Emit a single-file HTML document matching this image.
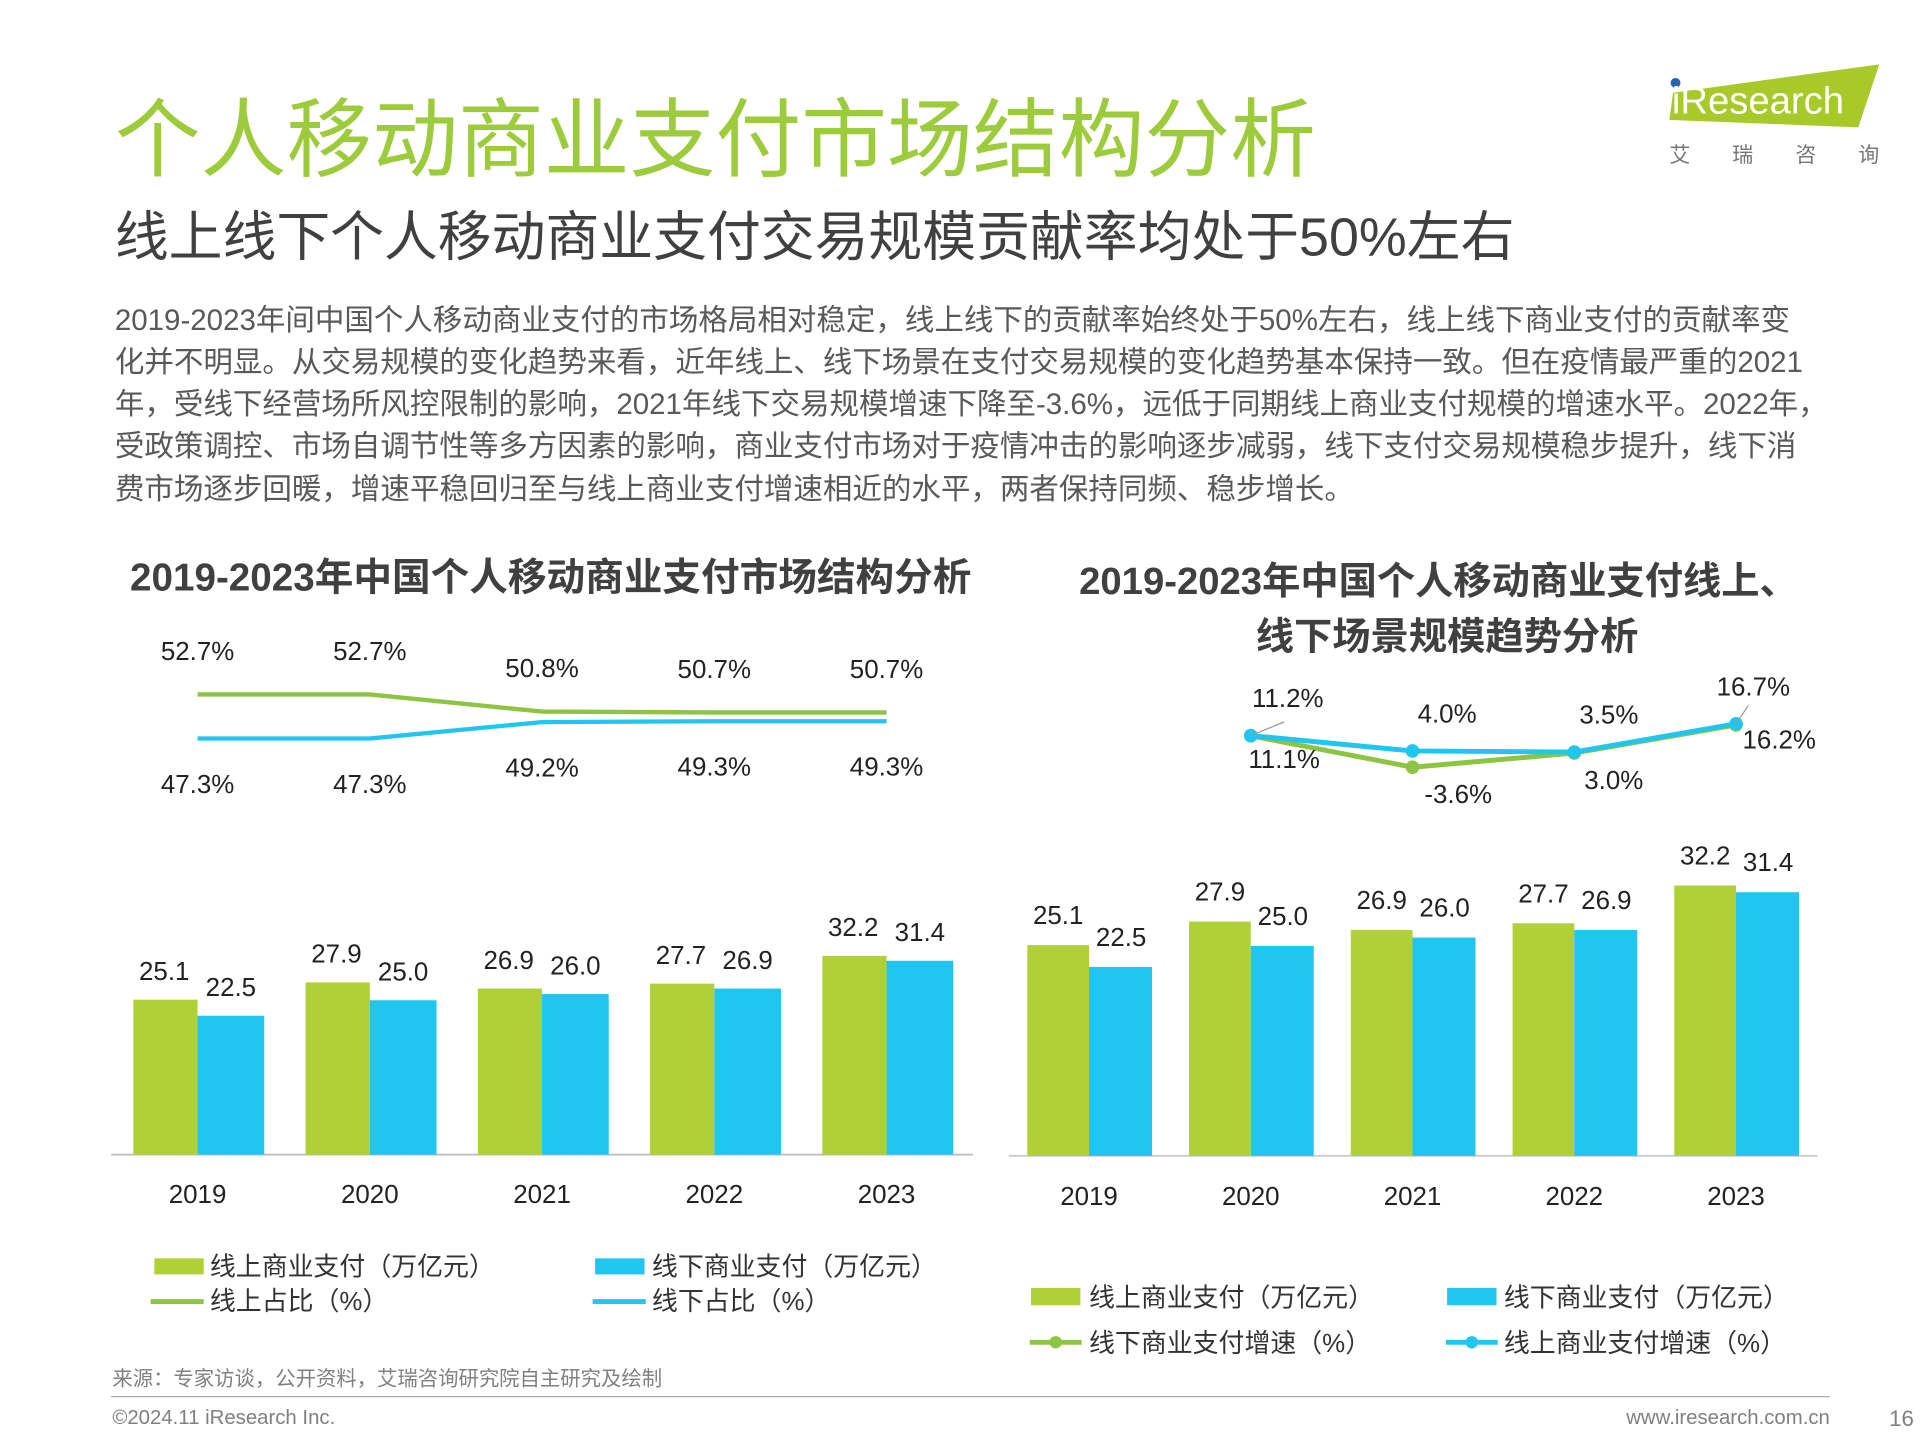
<!DOCTYPE html>
<html><head><meta charset="utf-8"><style>
html,body{margin:0;padding:0;background:#fff;}
svg{display:block;font-family:"Liberation Sans","Noto Sans CJK SC",sans-serif;}
</style></head><body>
<svg id="page" width="1920" height="1440" viewBox="0 0 1555 1166">
<text x="93" y="137" font-size="69.5" fill="#9ccb3b">个人移动商业支付市场结构分析</text>
<g>
<polygon points="1355,75 1522,52 1505,103 1352,97" fill="#a8c92a"/>
<circle cx="1357" cy="67" r="4" fill="#2a63b0"/>
<text x="1354" y="92" font-size="31" fill="#fff">iResearch</text>
<text x="1352" y="131" font-size="17" fill="#777" letter-spacing="34">艾瑞咨询</text>
</g>
<text x="93" y="207" font-size="43.6" fill="#404040">线上线下个人移动商业支付交易规模贡献率均处于50%左右</text>
<g font-size="23.9" fill="#595959">
<text x="93" y="267">2019-2023年间中国个人移动商业支付的市场格局相对稳定，线上线下的贡献率始终处于50%左右，线上线下商业支付的贡献率变</text>
<text x="93" y="301">化并不明显。从交易规模的变化趋势来看，近年线上、线下场景在支付交易规模的变化趋势基本保持一致。但在疫情最严重的2021</text>
<text x="93" y="335">年，受线下经营场所风控限制的影响，2021年线下交易规模增速下降至-3.6%，远低于同期线上商业支付规模的增速水平。2022年，</text>
<text x="93" y="369">受政策调控、市场自调节性等多方因素的影响，商业支付市场对于疫情冲击的影响逐步减弱，线下支付交易规模稳步提升，线下消</text>
<text x="93" y="404">费市场逐步回暖，增速平稳回归至与线上商业支付增速相近的水平，两者保持同频、稳步增长。</text>
</g>
<text x="446" y="478" font-size="31.3" font-weight="bold" fill="#404040" text-anchor="middle">2019-2023年中国个人移动商业支付市场结构分析</text>
<text x="1165" y="481" font-size="31" font-weight="bold" fill="#404040" text-anchor="middle">2019-2023年中国个人移动商业支付线上、</text>
<text x="1172" y="526" font-size="31" font-weight="bold" fill="#404040" text-anchor="middle">线下场景规模趋势分析</text>
<g id="left"></g>
<g id="right"></g>
<g font-size="21" fill="#333">
<rect x="125" y="1019" width="40" height="13" fill="#b0d136"/><text x="170" y="1033">线上商业支付（万亿元）</text>
<rect x="482" y="1019" width="40" height="13" fill="#20c5f0"/><text x="528" y="1033">线下商业支付（万亿元）</text>
<line x1="122" y1="1054" x2="165" y2="1054" stroke="#8dc441" stroke-width="4"/><text x="170" y="1061">线上占比（%）</text>
<line x1="480" y1="1054" x2="523" y2="1054" stroke="#20c5f0" stroke-width="4"/><text x="528" y="1061">线下占比（%）</text>
</g>
<g font-size="21" fill="#333">
<rect x="835" y="1043" width="40" height="14" fill="#b0d136"/><text x="882" y="1058">线上商业支付（万亿元）</text>
<rect x="1172" y="1043" width="40" height="14" fill="#20c5f0"/><text x="1218" y="1058">线下商业支付（万亿元）</text>
<line x1="834" y1="1087" x2="876" y2="1087" stroke="#8dc441" stroke-width="4"/><circle cx="855" cy="1087" r="5" fill="#8dc441"/><text x="882" y="1095">线下商业支付增速（%）</text>
<line x1="1171" y1="1087" x2="1213" y2="1087" stroke="#20c5f0" stroke-width="4"/><circle cx="1192" cy="1087" r="5" fill="#20c5f0"/><text x="1218" y="1095">线上商业支付增速（%）</text>
</g>
<text x="91" y="1122" font-size="16.5" fill="#808080">来源：专家访谈，公开资料，艾瑞咨询研究院自主研究及绘制</text>
<line x1="90" y1="1131" x2="1482" y2="1131" stroke="#aaa" stroke-width="1"/>
<text x="91" y="1153" font-size="16.5" fill="#808080">©2024.11 iResearch Inc.</text>
<text x="1482" y="1153" font-size="16.5" fill="#808080" text-anchor="end">www.iresearch.com.cn</text>
<text x="1530" y="1155" font-size="18" fill="#808080">16</text>
</svg>
<script>
const years = ["2019","2020","2021","2022","2023"];
const onlineVol = [25.1,27.9,26.9,27.7,32.2];
const offlineVol = [22.5,25.0,26.0,26.9,31.4];
const onlineShare = [52.7,52.7,50.8,50.7,50.7];
const offlineShare = [47.3,47.3,49.2,49.3,49.3];
const growthYears = ["2020","2021","2022","2023"];
const onlineGrowth = [11.2,4.0,3.5,16.7];
const offlineGrowth = [11.1,-3.6,3.0,16.2];

const NS="http://www.w3.org/2000/svg";
function mk(parent,tag,attrs,txt){const e=document.createElementNS(NS,tag);for(const k in attrs)e.setAttribute(k,attrs[k]);if(txt!==undefined)e.textContent=txt;parent.appendChild(e);return e;}
const GREEN="#b0d136",BLUE="#20c5f0",LGREEN="#8dc441";

// Left chart
const L=document.getElementById('left');
const lx=i=>160+i*139.5;
const ly=v=>935-v*5;
const lsy=v=>582-(v-50)*7.3;
const lby=v=>598-(v-47.3)*7;
mk(L,'line',{x1:90,y1:935,x2:788,y2:935,stroke:'#bbb','stroke-width':1.5});
years.forEach((y,i)=>{
  let r=mk(L,'rect',{x:lx(i)-52,y:ly(onlineVol[i]),width:52,height:935-ly(onlineVol[i]),fill:GREEN});
  
  r=mk(L,'rect',{x:lx(i),y:ly(offlineVol[i]),width:54,height:935-ly(offlineVol[i]),fill:BLUE});
  
  mk(L,'text',{x:lx(i)-27,y:ly(onlineVol[i])-16,'font-size':21,'text-anchor':'middle',fill:'#222'},onlineVol[i].toFixed(1));
  mk(L,'text',{x:lx(i)+27,y:ly(offlineVol[i])-16,'font-size':21,'text-anchor':'middle',fill:'#222'},offlineVol[i].toFixed(1));
  const t=mk(L,'text',{x:lx(i),y:974,'font-size':21,'text-anchor':'middle',fill:'#222'},y);
  
  mk(L,'text',{x:lx(i),y:lsy(onlineShare[i])-28,'font-size':21,'text-anchor':'middle',fill:'#222'},onlineShare[i].toFixed(1)+'%');
  mk(L,'text',{x:lx(i),y:lby(offlineShare[i])+44,'font-size':21,'text-anchor':'middle',fill:'#222'},offlineShare[i].toFixed(1)+'%');
});
let p=mk(L,'polyline',{points:onlineShare.map((v,i)=>lx(i)+','+lsy(v)).join(' '),fill:'none',stroke:LGREEN,'stroke-width':3.5});

p=mk(L,'polyline',{points:offlineShare.map((v,i)=>lx(i)+','+lby(v)).join(' '),fill:'none',stroke:BLUE,'stroke-width':3.5});


// Right chart
const R=document.getElementById('right');
const rx=i=>882+i*131;
const ry=v=>936-v*6.8;
const gy=v=>615-v*1.73;
mk(R,'line',{x1:817,y1:936,x2:1472,y2:936,stroke:'#ccc','stroke-width':1.5});
years.forEach((y,i)=>{
  let r=mk(R,'rect',{x:rx(i)-50,y:ry(onlineVol[i]),width:50,height:936-ry(onlineVol[i]),fill:GREEN});
  
  r=mk(R,'rect',{x:rx(i),y:ry(offlineVol[i]),width:51,height:936-ry(offlineVol[i]),fill:BLUE});
  
  mk(R,'text',{x:rx(i)-25,y:ry(onlineVol[i])-17,'font-size':21,'text-anchor':'middle',fill:'#222'},onlineVol[i].toFixed(1));
  mk(R,'text',{x:rx(i)+26,y:ry(offlineVol[i])-17,'font-size':21,'text-anchor':'middle',fill:'#222'},offlineVol[i].toFixed(1));
  const t=mk(R,'text',{x:rx(i),y:976,'font-size':21,'text-anchor':'middle',fill:'#222'},y);
  
});
const gx=i=>rx(i+1);
p=mk(R,'polyline',{points:offlineGrowth.map((v,i)=>gx(i)+','+gy(v)).join(' '),fill:'none',stroke:LGREEN,'stroke-width':4});

p=mk(R,'polyline',{points:onlineGrowth.map((v,i)=>gx(i)+','+gy(v)).join(' '),fill:'none',stroke:BLUE,'stroke-width':4});

growthYears.forEach((y,i)=>{
  let c=mk(R,'circle',{cx:gx(i),cy:gy(offlineGrowth[i]),r:5.5,fill:LGREEN});
  
  c=mk(R,'circle',{cx:gx(i),cy:gy(onlineGrowth[i]),r:5.5,fill:BLUE});
  
  const ax=gx(i)+(i==0?30:i==3?14:28);
  mk(R,'text',{x:ax,y:Math.min(gy(onlineGrowth[i]),gy(offlineGrowth[i]))-23,'font-size':21,'text-anchor':'middle',fill:'#222'},onlineGrowth[i].toFixed(1)+'%');
  const bx=gx(i)+(i==0?27:i==3?35:i==1?37:32);
  const by=i==3?gy(offlineGrowth[i])+19:Math.max(gy(onlineGrowth[i]),gy(offlineGrowth[i]))+(i==0?26:29);
  mk(R,'text',{x:bx,y:by,'font-size':21,'text-anchor':'middle',fill:'#222'},offlineGrowth[i].toFixed(1)+'%');
});
mk(R,'line',{x1:gx(0),y1:gy(onlineGrowth[0]),x2:gx(0)+27,y2:gy(onlineGrowth[0])-11,stroke:'#999','stroke-width':1});
mk(R,'line',{x1:gx(3),y1:gy(onlineGrowth[3]),x2:gx(3)+10,y2:gy(onlineGrowth[3])-15,stroke:'#999','stroke-width':1});
</script>
</body></html>
